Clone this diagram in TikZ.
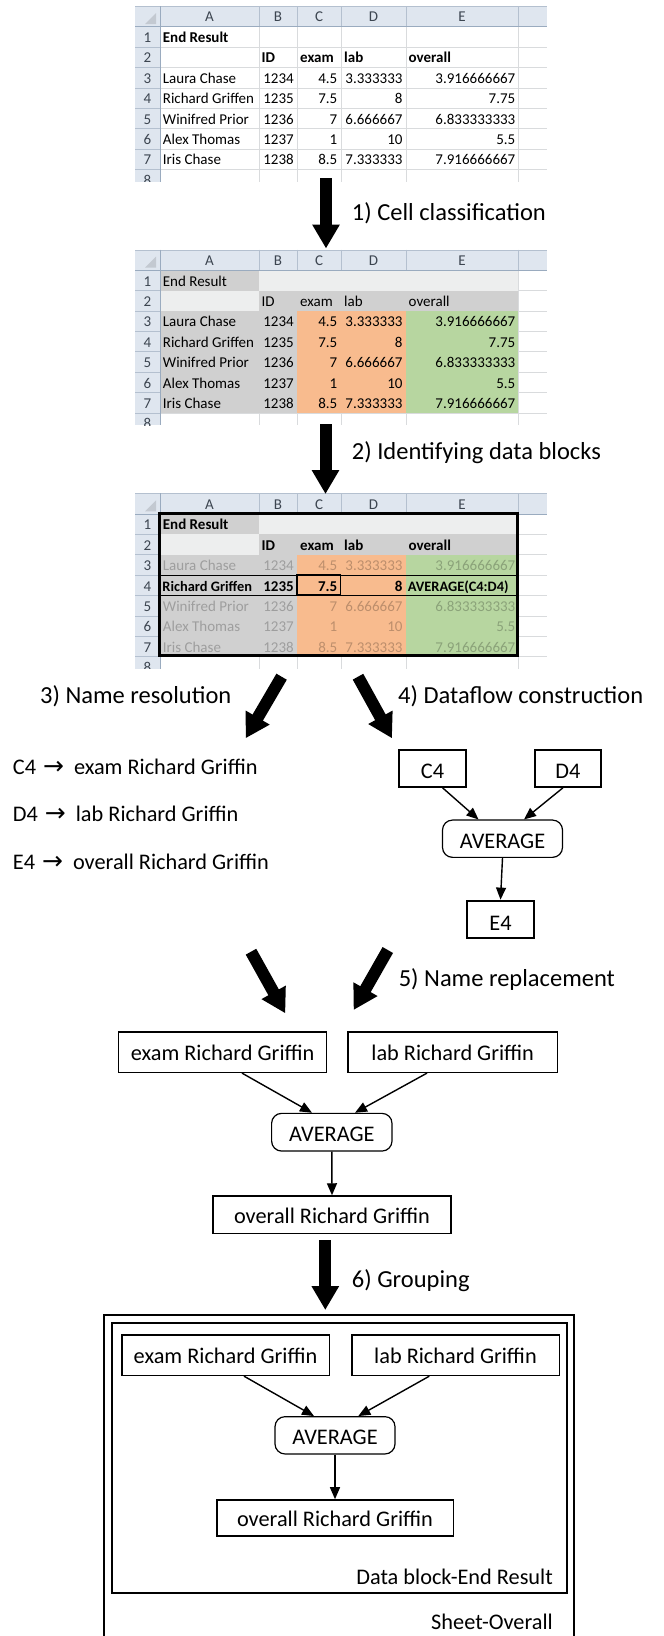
\documentclass[tikz,border=0pt]{standalone}
\usepackage{fontspec}
\setmainfont{Carlito}
\newfontfamily\symfont{DejaVu Sans}
\usetikzlibrary{arrows.meta,calc}
\definecolor{hdrbg}{HTML}{DFE6EF}
\definecolor{hdrline}{HTML}{B4C0CF}
\definecolor{hdrdark}{HTML}{9AABBF}
\definecolor{hdrtext}{HTML}{3C4550}
\definecolor{gridc}{HTML}{D9DBDD}
\definecolor{labgrey}{HTML}{D0D0D0}
\definecolor{lightgrey}{HTML}{EDEEEE}
\definecolor{orangec}{HTML}{F8BB8E}
\definecolor{greenc}{HTML}{B7D6A0}
\definecolor{cornertri}{HTML}{C3C9D1}
\newcommand\cellfont{\fontsize{15}{17}\selectfont}
\newcommand\cellfontsm{\fontsize{14.4}{17}\selectfont}
\newcommand\boxfont{\fontsize{22.3}{26}\selectfont}
\newcommand\stepfont{\fontsize{24.5}{29}\selectfont}
\newcommand\resarrow{{\symfont\fontsize{25}{25}\selectfont →}}
\newcommand\sheetgrid{%
  \fill[white] (135,0) rectangle (547,175.5);
  \foreach \x in {259,297,341,406,518}
    \draw[gridc,line width=0.8pt] (\x,20.7) -- (\x,175.5);
  \foreach \y in {41.1,61.5,81.9,102.3,122.7,143.1,163.5}
    \draw[gridc,line width=0.8pt] (160,\y) -- (547,\y);
}
\newcommand\sheetfills{%
  \fill[labgrey] (160,20.7) rectangle (259,41.1);
  \fill[lightgrey] (259,20.7) rectangle (518,41.1);
  \fill[lightgrey] (160,41.1) rectangle (259,61.5);
  \fill[labgrey] (259,41.1) rectangle (518,61.5);
  \fill[labgrey] (160,61.5) rectangle (297,163.5);
  \fill[orangec] (297,61.5) rectangle (406,163.5);
  \fill[greenc] (406,61.5) rectangle (518,163.5);
}
\newcommand\sheethead{%
  \fill[hdrbg] (135,0) rectangle (547,20.7);
  \fill[hdrbg] (135,20.7) rectangle (160,175.5);
  \foreach \x in {259,297,341,406,518}
    \draw[hdrline,line width=0.8pt] (\x,0) -- (\x,20.7);
  \foreach \y in {41.1,61.5,81.9,102.3,122.7,143.1,163.5}
    \draw[hdrline,line width=0.8pt] (135,\y) -- (160,\y);
  \draw[hdrline,line width=0.8pt] (135,0.4) -- (547,0.4);
  \draw[hdrdark,line width=1pt] (135,20.7) -- (547,20.7);
  \draw[hdrdark,line width=1pt] (160,0) -- (160,175.5);
  \fill[cornertri] (156,7) -- (156,18) -- (145,18) -- cycle;
  \foreach \l/\x in {A/209.5,B/278,C/319,D/373.5,E/462}
    \node[hdrtxt] (\sp-h\l) at (\x,15.7) {\l};
  \foreach \n in {1,...,8}
    \node[hdrtxt] (\sp-n\n) at (147.5,{16.1+20.4*\n}) {\n};
}
\begin{document}
\begin{tikzpicture}[x=1pt,y=-1pt,
  hdrtxt/.style={anchor=base,inner sep=0pt,font=\cellfont,text=hdrtext},
  cl/.style={anchor=base west,inner sep=0pt,font=\cellfont},
  cr/.style={anchor=base east,inner sep=0pt,font=\cellfont},
  bf/.style={font={\cellfont\bfseries}},
  bfsm/.style={font={\cellfontsm\bfseries}},
  dimtxt/.style={text opacity=0.24},
  tbox/.style={draw,line width=1.6pt,inner sep=0pt,font=\boxfont,text height=17pt,text depth=0pt},
  tboxf/.style={draw,line width=2.2pt,inner sep=0pt,font=\boxfont,text height=21pt,text depth=0pt},
  avgbox/.style={draw,line width=1.2pt,rounded corners=10pt,inner sep=0pt,font=\boxfont,text height=19pt,text depth=0pt},
  flow/.style={line width=1.4pt,-{Triangle[length=12pt,width=10pt]}},
  bigarrow/.style={line width=12pt,-{Triangle[length=24pt,width=26pt]}},
  steplbl/.style={anchor=base west,inner sep=0pt,font=\stepfont},
  reslbl/.style={anchor=base west,inner sep=0pt,font=\boxfont},
  grplbl/.style={anchor=base east,inner sep=0pt,font=\boxfont},
  grpline/.style={line width=2pt}]
\useasboundingbox (0,0) rectangle (664,1636);
\fill[white] (0,0) rectangle (664,1636);

% ---------------- Sheet 1 ----------------
\begin{scope}[shift={(0,6)}]
\clip (135,0) rectangle (547,175.5);
\def\sp{sa}
\sheetgrid
\sheethead
\node[cl,bf] (sa-a1) at (162.7,36.5) {End Result};
\node[cl,bf] (sa-b2) at (261.5,56.9) {ID};
\node[cl,bf] (sa-c2) at (300,56.9) {exam};
\node[cl,bf] (sa-d2) at (344,56.9) {lab};
\node[cl,bf] (sa-e2) at (408.5,56.9) {overall};
\foreach \i/\nm/\id/\cc/\dd/\ee in {3/Laura Chase/1234/4.5/3.333333/3.916666667,
  4/Richard Griffen/1235/7.5/8/7.75, 5/Winifred Prior/1236/7/6.666667/6.833333333,
  6/Alex Thomas/1237/1/10/5.5, 7/Iris Chase/1238/8.5/7.333333/7.916666667}{
  \node[cl] (sa-a\i) at (162.7,{16.1+20.4*\i}) {\nm};
  \node[cr] (sa-b\i) at (294,{16.1+20.4*\i}) {\id};
  \node[cr] (sa-c\i) at (337.5,{16.1+20.4*\i}) {\cc};
  \node[cr] (sa-d\i) at (402.7,{16.1+20.4*\i}) {\dd};
  \node[cr] (sa-e\i) at (515.5,{16.1+20.4*\i}) {\ee};
}
\end{scope}

% ---------------- Sheet 2 ----------------
\begin{scope}[shift={(0,249.5)}]
\clip (135,0) rectangle (547,175.5);
\def\sp{sb}
\sheetgrid
\sheetfills
\sheethead
\node[cl] (sb-a1) at (162.7,36.5) {End Result};
\node[cl] (sb-b2) at (261.5,56.9) {ID};
\node[cl] (sb-c2) at (300,56.9) {exam};
\node[cl] (sb-d2) at (344,56.9) {lab};
\node[cl] (sb-e2) at (408.5,56.9) {overall};
\foreach \i/\nm/\id/\cc/\dd/\ee in {3/Laura Chase/1234/4.5/3.333333/3.916666667,
  4/Richard Griffen/1235/7.5/8/7.75, 5/Winifred Prior/1236/7/6.666667/6.833333333,
  6/Alex Thomas/1237/1/10/5.5, 7/Iris Chase/1238/8.5/7.333333/7.916666667}{
  \node[cl] (sb-a\i) at (162.7,{16.1+20.4*\i}) {\nm};
  \node[cr] (sb-b\i) at (294,{16.1+20.4*\i}) {\id};
  \node[cr] (sb-c\i) at (337.5,{16.1+20.4*\i}) {\cc};
  \node[cr] (sb-d\i) at (402.7,{16.1+20.4*\i}) {\dd};
  \node[cr] (sb-e\i) at (515.5,{16.1+20.4*\i}) {\ee};
}
\end{scope}

% ---------------- Sheet 3 ----------------
\begin{scope}[shift={(0,493.3)}]
\clip (135,0) rectangle (547,175.5);
\def\sp{sc}
\sheetgrid
\sheetfills
\sheethead
\node[cl,bf] (sc-a1) at (162.7,36.5) {End Result};
\node[cl,bf] (sc-b2) at (261.5,56.9) {ID};
\node[cl,bf] (sc-c2) at (300,56.9) {exam};
\node[cl,bf] (sc-d2) at (344,56.9) {lab};
\node[cl,bf] (sc-e2) at (408.5,56.9) {overall};
\foreach \i/\nm/\id/\cc/\dd/\ee in {3/Laura Chase/1234/4.5/3.333333/3.916666667,
  5/Winifred Prior/1236/7/6.666667/6.833333333,
  6/Alex Thomas/1237/1/10/5.5, 7/Iris Chase/1238/8.5/7.333333/7.916666667}{
  \node[cl,dimtxt] (sc-a\i) at (162.7,{16.1+20.4*\i}) {\nm};
  \node[cr,dimtxt] (sc-b\i) at (294,{16.1+20.4*\i}) {\id};
  \node[cr,dimtxt] (sc-c\i) at (337.5,{16.1+20.4*\i}) {\cc};
  \node[cr,dimtxt] (sc-d\i) at (402.7,{16.1+20.4*\i}) {\dd};
  \node[cr,dimtxt] (sc-e\i) at (515.5,{16.1+20.4*\i}) {\ee};
}
\node[cl,bfsm] (sc-a4) at (162.2,97.7) {Richard Griffen};
\node[cr,bf] (sc-b4) at (294,97.7) {1235};
\node[cr,bf] (sc-c4) at (337.5,97.7) {7.5};
\node[cr,bf] (sc-d4) at (402.7,97.7) {8};
\node[cl,bfsm] (sc-e4) at (407.7,97.7) {AVERAGE(C4:D4)};
\draw[line width=1.2pt] (160,81.9) -- (518,81.9);
\draw[line width=1.2pt] (160,102.3) -- (518,102.3);
\draw[line width=1.8pt] (297,81.9) rectangle (340.5,101.8);
\draw[line width=3.2pt] (159.5,20.5) rectangle (517.5,162.5);
\end{scope}

% ---------------- big process arrows ----------------
\coordinate (a1s) at (326,178);   \coordinate (a1e) at (326,248.5);
\coordinate (a2s) at (325.5,424); \coordinate (a2e) at (325.5,494);
\coordinate (a3s) at (281.6,676.7); \coordinate (a3e) at (245.6,738.3);
\coordinate (a4s) at (358,676.7); \coordinate (a4e) at (392,738.3);
\coordinate (a5s) at (251,951.7); \coordinate (a5e) at (285.3,1013.3);
\coordinate (a6s) at (387.8,950); \coordinate (a6e) at (353.6,1010);
\coordinate (a7s) at (325.3,1240); \coordinate (a7e) at (325.3,1310);
\draw[bigarrow] (a1s) -- (a1e);
\draw[bigarrow] (a2s) -- (a2e);
\draw[bigarrow] (a3s) -- (a3e);
\draw[bigarrow] (a4s) -- (a4e);
\draw[bigarrow] (a5s) -- (a5e);
\draw[bigarrow] (a6s) -- (a6e);
\draw[bigarrow] (a7s) -- (a7e);

% ---------------- step labels ----------------
\node[steplbl] (l1) at (351.7,220) {1) Cell classification};
\node[steplbl] (l2) at (351.7,459.3) {2) Identifying data blocks};
\node[steplbl] (l3) at (40,703.3) {3) Name resolution};
\node[steplbl] (l4) at (398,703.3) {4) Dataflow construction};
\node[steplbl] (l5) at (398.6,986.7) {5) Name replacement};
\node[steplbl] (l6) at (351.7,1287.3) {6) Grouping};

% ---------------- name resolution ----------------
\node[reslbl] (r1) at (12.7,774.5) {C4\hspace{7pt}\resarrow\hspace{10pt}exam Richard Griffin};
\node[reslbl] (r2) at (12.7,821.5) {D4\hspace{7pt}\resarrow\hspace{10pt}lab Richard Griffin};
\node[reslbl] (r3) at (12.7,869) {E4\hspace{7pt}\resarrow\hspace{10pt}overall Richard Griffin};

% ---------------- dataflow construction ----------------
\node[tboxf,minimum width=67pt,minimum height=36.7pt] (c4) at (432.5,768.3) {C4};
\node[tboxf,minimum width=66pt,minimum height=36.7pt] (d4) at (568,768.3) {D4};
\node[avgbox,minimum width=120pt,minimum height=37.3pt] (avg4) at (502.5,838.7) {AVERAGE};
\node[tboxf,minimum width=67pt,minimum height=37.6pt] (e4) at (500.5,919.5) {E4};
\draw[flow] ($(c4.south)+(10,0)$) -- ($(avg4.north)+(-24,0)$);
\draw[flow] ($(d4.south)+(-5,0)$) -- ($(avg4.north)+(21.5,0)$);
\draw[flow] (avg4.south) -- (e4.north);

% ---------------- name replacement ----------------
\node[tbox,minimum width=208pt,minimum height=40.6pt] (ex5) at (222.6,1052) {exam Richard Griffin};
\node[tbox,minimum width=209.5pt,minimum height=40.6pt] (lab5) at (452.7,1052) {lab Richard Griffin};
\node[avgbox,minimum width=120.4pt,minimum height=37.7pt] (avg5) at (331.8,1132.2) {AVERAGE};
\node[tbox,minimum width=238pt,minimum height=37.3pt] (ov5) at (332,1214.7) {overall Richard Griffin};
\draw[flow] ($(ex5.south)+(19.4,0)$) -- ($(avg5.north)+(-19.8,0)$);
\draw[flow] ($(lab5.south)+(-25.7,0)$) -- ($(avg5.north)+(23.2,0)$);
\draw[flow] (avg5.south) -- (ov5.north);

% ---------------- grouping ----------------
\draw[grpline] (104,1660) -- (104,1315) -- (574.3,1315) -- (574.3,1660);
\draw[grpline] (111.7,1323.3) rectangle (567.3,1593.3);
\node[tbox,minimum width=207.6pt,minimum height=40.3pt] (ex6) at (225.5,1355.2) {exam Richard Griffin};
\node[tbox,minimum width=207.6pt,minimum height=40.3pt] (lab6) at (455.5,1355.2) {lab Richard Griffin};
\node[avgbox,minimum width=120pt,minimum height=37.3pt] (avg6) at (335,1435.3) {AVERAGE};
\node[tbox,minimum width=236.6pt,minimum height=36pt] (ov6) at (335,1518) {overall Richard Griffin};
\draw[flow] ($(ex6.south)+(18.5,0)$) -- ($(avg6.north)+(-21,0)$);
\draw[flow] ($(lab6.south)+(-26.2,0)$) -- ($(avg6.north)+(23.3,0)$);
\draw[flow] (avg6.south) -- (ov6.north);
\node[grplbl] (dbl) at (553,1584.5) {Data block-End Result};
\node[grplbl] (sol) at (553,1629.3) {Sheet-Overall};
\end{tikzpicture}
\end{document}
